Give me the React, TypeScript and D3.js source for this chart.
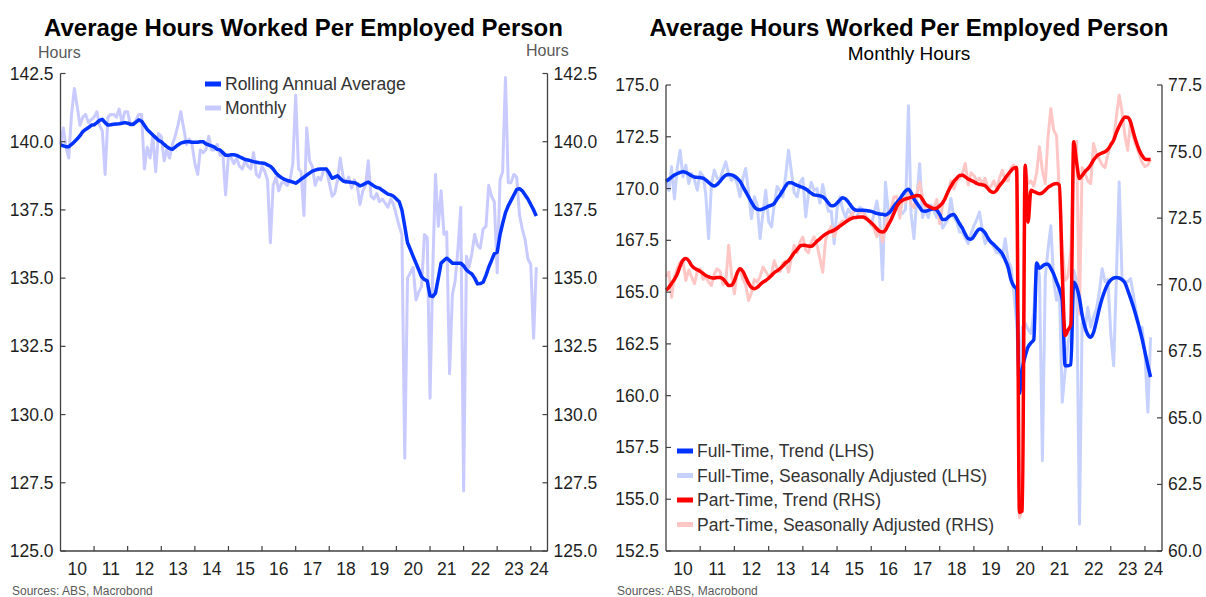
import React from "react";
import * as d3 from "d3";

const FONT = "'Liberation Sans', Arial, Helvetica, sans-serif";

// ---------- categories ----------
const months: Date[] = d3.timeMonth.range(new Date(2010, 0, 1), new Date(2024, 3, 1)); // Jan 2010 .. Mar 2024
const yearLabels = ["10", "11", "12", "13", "14", "15", "16", "17", "18", "19", "20", "21", "22", "23", "24"];
const leftTicks = [125, 127.5, 130, 132.5, 135, 137.5, 140, 142.5];
const rightLhsTicks = [152.5, 155, 157.5, 160, 162.5, 165, 167.5, 170, 172.5, 175];
const rightRhsTicks = [60, 62.5, 65, 67.5, 70, 72.5, 75, 77.5];

// ---------- left chart series ----------
const rollingAvg = [
  139.88, 139.85, 139.82, 139.82, 139.90, 140.00, 140.10, 140.22, 140.37, 140.45, 140.52, 140.60,
  140.62, 140.70, 140.78, 140.82, 140.70, 140.61, 140.62, 140.64, 140.65, 140.66, 140.68, 140.70,
  140.68, 140.64, 140.64, 140.72, 140.80, 140.75, 140.60, 140.45, 140.35, 140.25, 140.15, 140.05,
  140.00, 139.90, 139.82, 139.75, 139.72, 139.80, 139.88, 139.95, 139.98, 140.00, 140.00, 139.98,
  139.98, 139.98, 140.00, 140.00, 139.92, 139.88, 139.85, 139.80, 139.72, 139.70, 139.60, 139.50,
  139.50, 139.52, 139.52, 139.50, 139.45, 139.40, 139.35, 139.33, 139.30, 139.27, 139.25, 139.23,
  139.22, 139.20, 139.15, 139.10, 139.00, 138.85, 138.75, 138.68, 138.62, 138.58, 138.55, 138.52,
  138.48, 138.55, 138.63, 138.70, 138.78, 138.85, 138.92, 138.96, 138.99, 139.00, 139.00, 139.00,
  138.85, 138.66, 138.70, 138.75, 138.65, 138.56, 138.53, 138.52, 138.51, 138.50, 138.45, 138.38,
  138.42, 138.48, 138.52, 138.45, 138.38, 138.32, 138.30, 138.22, 138.15, 138.08, 138.05, 138.00,
  137.90, 137.80, 137.50, 136.90, 136.30, 136.05, 135.80, 135.55, 135.30, 135.05, 134.95, 134.90,
  134.35, 134.33, 134.45, 135.00, 135.55, 135.65, 135.73, 135.65, 135.55, 135.55, 135.55, 135.55,
  135.45, 135.30, 135.22, 135.15, 135.00, 134.79, 134.80, 134.85, 135.10, 135.40, 135.65, 135.90,
  135.95, 136.60, 137.00, 137.40, 137.65, 137.85, 138.05, 138.25, 138.28, 138.20, 138.05, 137.90,
  137.70, 137.50, 137.28,
];

const monthlyHours = [
  139.9, 140.5, 139.8, 139.4, 141.0, 141.95, 141.3, 140.6, 140.9, 141.0, 140.7, 140.8,
  140.9, 141.1, 140.6, 140.4, 138.8, 140.9, 141.0, 141.0, 140.9, 141.2, 140.7, 141.1,
  141.1, 140.6, 140.6, 140.8, 141.0, 141.0, 139.0, 139.8, 139.4, 140.2, 138.9, 140.3,
  140.2, 139.3, 139.7, 139.4, 139.9, 140.2, 140.6, 141.1, 140.5, 139.9, 140.1, 139.9,
  139.2, 138.8, 139.7, 139.6, 139.7, 140.2, 139.7, 139.7, 139.9, 139.5, 139.6, 138.05,
  139.5, 139.4, 139.2, 139.4, 139.1, 139.0, 139.3, 139.1, 139.0, 139.6, 138.8, 138.7,
  139.1, 138.9, 138.6, 136.3, 138.4, 138.7, 138.2, 138.5, 138.5, 138.4, 138.6, 139.2,
  141.7, 139.0, 138.9, 137.3, 140.5, 139.3, 139.1, 138.4, 138.7, 138.6, 138.96, 139.0,
  138.5, 138.0, 138.1, 138.6, 139.4, 138.7, 138.5, 138.7, 138.3, 138.6, 138.4, 137.7,
  138.2, 138.4, 139.3, 138.0, 137.9, 138.1, 137.8, 137.9, 137.75, 137.6, 137.9, 137.7,
  137.3, 136.9, 136.6, 128.4, 135.0, 135.2, 135.4, 134.2, 134.5, 134.7, 136.6, 136.5,
  130.6, 135.5, 138.8, 136.9, 138.2, 136.6, 136.7, 131.5, 134.4, 134.9, 136.1, 137.6,
  127.2, 135.8, 135.4, 135.9, 136.6, 136.2, 136.1, 136.8, 136.9, 138.4, 138.0, 137.8,
  135.2, 138.6, 138.9, 142.35, 138.5, 138.5, 138.8, 138.7, 137.3, 136.8, 136.4, 135.7,
  135.5, 132.8, 135.4,
];

// ---------- right chart series ----------
const fullTimeTrend = [
  170.35, 170.45, 170.55, 170.65, 170.72, 170.78, 170.81, 170.78, 170.7, 170.62, 170.56, 170.54,
  170.53, 170.5, 170.42, 170.3, 170.18, 170.12, 170.2, 170.35, 170.52, 170.64, 170.68, 170.66,
  170.6, 170.5, 170.35, 170.1, 169.85, 169.6, 169.35, 169.12, 169.0, 168.98, 169.02, 169.08,
  169.15, 169.2, 169.28, 169.5, 169.68, 169.9, 170.12, 170.28, 170.28, 170.22, 170.15, 170.1,
  170.05, 169.98, 169.88, 169.78, 169.7, 169.67, 169.65, 169.6, 169.48, 169.3, 169.17, 169.18,
  169.3, 169.45, 169.56, 169.5, 169.35, 169.15, 169.0, 168.95, 168.95, 168.95, 168.94, 168.92,
  168.9, 168.85, 168.8, 168.77, 168.76, 168.72, 168.8, 168.95, 169.15, 169.32, 169.5, 169.7,
  169.88, 169.97, 169.8, 169.5, 169.3, 169.1, 168.92, 168.9, 168.95, 169.0, 169.02, 168.95,
  168.75, 168.5, 168.5, 168.62, 168.72, 168.75, 168.55, 168.3, 168.08, 167.8, 167.58, 167.55,
  167.7, 167.92, 168.05, 168.0, 167.85, 167.6, 167.42, 167.3, 167.15, 167.02, 166.85, 166.55,
  166.2, 165.6, 165.3, 165.15, 160.1, 161.3, 161.9, 162.35, 162.55, 162.7, 166.4, 166.15,
  166.25, 166.35, 166.35, 166.15, 165.88, 165.5, 165.15, 164.6, 161.45, 161.45, 161.5, 165.48,
  165.25, 164.7, 163.9, 163.3, 162.95, 162.82, 163.05, 163.6, 164.2, 164.7, 165.1, 165.4,
  165.58, 165.68, 165.7, 165.68, 165.6, 165.45, 165.1, 164.7, 164.27, 163.8, 163.3, 162.75,
  162.1, 161.45, 160.9,
];

const fullTimeSA = [
  170.3, 169.9, 171.05, 169.5, 171.0, 171.85, 170.56, 171.13, 170.24, 170.72, 170.4, 169.92,
  170.8, 170.6, 169.76, 167.58, 170.2, 170.89, 170.5, 170.48, 170.9, 171.29, 170.7, 170.4,
  170.6, 170.2, 169.6, 170.5, 170.97, 169.8, 168.55, 169.6, 169.2, 167.58, 168.8, 169.92,
  168.4, 168.15, 169.2, 170.1, 169.9, 169.6, 170.6, 171.85, 170.8, 169.8, 169.6, 170.3,
  170.5, 168.63, 169.7, 170.3, 169.9, 170.0, 169.3, 170.2, 169.5, 168.9, 168.9, 167.34,
  169.0, 169.6, 169.0, 168.6, 169.0, 168.8, 168.6, 168.6, 169.1, 169.0, 168.6, 168.5,
  168.23, 168.8, 169.4, 168.5, 165.6, 170.3, 168.9, 168.7, 169.3, 169.0, 168.9, 168.8,
  169.0, 174.0, 168.8, 167.58, 169.5, 171.2, 168.6, 169.0, 168.6, 169.2, 168.9, 168.6,
  168.8, 168.1, 168.3, 168.55, 169.52, 168.6, 168.4, 167.9, 167.9, 167.6, 167.34, 167.8,
  168.2, 168.5, 168.87, 168.0, 167.34, 167.6, 167.4, 167.18, 166.9, 166.9, 166.7, 167.58,
  166.5, 166.21, 165.0, 163.5, 160.6, 163.3, 163.5, 163.2, 163.0, 164.0, 166.4, 165.8,
  156.86, 165.73, 167.0, 168.2, 165.57, 164.6, 165.2, 159.68, 161.21, 162.5, 163.31, 166.05,
  165.6, 153.79, 163.47, 163.15, 164.27, 163.3, 163.8, 164.2, 165.0, 166.13, 165.5, 165.6,
  163.0, 161.45, 165.57, 170.32, 165.7, 165.5, 165.5, 165.65, 164.8, 164.0, 163.23, 163.3,
  162.0, 159.2, 162.82,
];

const partTimeTrend = [
  69.8, 69.9, 70.05, 70.2, 70.4, 70.7, 70.92, 70.98, 70.9, 70.72, 70.62, 70.56,
  70.5, 70.42, 70.35, 70.3, 70.26, 70.25, 70.27, 70.27, 70.22, 70.1, 69.97, 69.98,
  70.15, 70.45, 70.6, 70.5, 70.28, 70.05, 69.9, 69.85, 69.9, 70.0, 70.1, 70.16,
  70.25, 70.35, 70.45, 70.52, 70.6, 70.7, 70.82, 70.9, 71.05, 71.2, 71.32, 71.45,
  71.48, 71.47, 71.45, 71.44, 71.52, 71.63, 71.72, 71.82, 71.9, 71.96, 72.0, 72.05,
  72.12, 72.2, 72.27, 72.35, 72.42, 72.48, 72.52, 72.53, 72.54, 72.54, 72.5, 72.42,
  72.33, 72.22, 72.1, 72.0, 71.98, 72.05, 72.25, 72.45, 72.7, 72.95, 73.1, 73.17,
  73.22, 73.25, 73.28, 73.32, 73.35, 73.34, 73.2, 73.03, 72.95, 72.9, 72.86, 72.88,
  72.96, 73.08, 73.25, 73.5, 73.7, 73.88, 74.0, 74.1, 74.11, 74.05, 73.97, 73.92,
  73.87, 73.8, 73.77, 73.75, 73.72, 73.6, 73.5, 73.46, 73.55, 73.72, 73.85, 74.0,
  74.15, 74.28, 74.38, 74.4, 61.45, 61.5, 74.49, 72.35, 73.55, 73.5, 73.45, 73.42,
  73.45, 73.55, 73.65, 73.72, 73.78, 73.8, 73.74, 70.5, 68.09, 68.3, 68.5, 75.37,
  74.6, 73.99, 74.1, 74.25, 74.35, 74.5, 74.68, 74.82, 74.9, 74.95, 74.99, 75.08,
  75.25, 75.43, 75.7, 75.95, 76.15, 76.3, 76.28, 76.1, 75.7, 75.35, 75.05, 74.85,
  74.72, 74.7, 74.7,
];

const partTimeSA = [
  70.3, 70.47, 69.53, 70.3, 70.6, 70.85, 70.9, 70.16, 70.55, 70.3, 70.04, 70.5,
  70.6, 70.2, 70.3, 70.1, 69.97, 70.4, 70.6, 70.5, 70.0, 70.1, 71.48, 70.4,
  69.66, 70.5, 70.6, 70.2, 70.0, 69.41, 69.7, 70.2, 70.1, 70.3, 70.66, 70.5,
  70.3, 70.4, 70.9, 70.6, 70.5, 70.8, 70.9, 70.47, 71.0, 71.48, 71.2, 71.6,
  71.79, 71.3, 71.2, 71.6, 71.8, 71.5, 71.0, 70.47, 71.7, 72.0, 72.2, 71.8,
  72.1, 72.3, 72.4, 72.35, 72.5, 72.6, 72.75, 72.8, 72.7, 72.75, 72.6, 72.4,
  72.3, 72.1, 71.8, 72.1, 71.6, 72.2, 72.6, 72.9, 73.3, 73.3, 72.5, 73.3,
  73.1, 73.5, 73.0, 72.9, 73.4, 73.86, 73.3, 72.9, 73.0, 72.9, 72.9, 73.2,
  72.3, 73.0, 73.3, 73.5, 73.9, 73.6, 73.9, 74.0, 74.2, 74.55, 73.75, 74.2,
  74.1, 73.9, 74.0, 73.8, 74.0, 73.6, 73.7, 73.9, 73.6, 74.0, 74.3, 73.9,
  73.9, 74.4, 74.5, 74.2, 61.25, 61.6, 74.43, 73.8, 73.9, 73.7, 74.2, 75.18,
  74.3, 73.8, 75.5, 76.62, 75.81, 75.6, 73.5, 71.4, 70.16, 70.3, 71.3, 74.5,
  75.4, 68.9, 74.4, 74.2, 73.9, 73.8, 75.3, 74.9, 74.7, 74.5, 74.4, 74.9,
  75.3, 75.4, 76.3, 77.12, 76.5, 75.6, 75.05, 76.18, 75.5, 75.2, 74.9, 74.6,
  74.43, 74.5, 74.7,
];

// ---------- styling ----------
const C = {
  blue: "#0033ff",
  lavender: "#c9caff",
  lightBlue: "#c6d1ff",
  red: "#ff0000",
  pink: "#ffc6c6",
  axis: "#404040",
  tick: "#1f1f1f",
  text: "#333333",
  note: "#595959",
};

const X_START = new Date(2010, 0, 1);
const X_END = new Date(2024, 6, 1);

type Scale = d3.ScaleLinear<number, number>;
type TScale = d3.ScaleTime<number, number>;

function Frame({ x, yL, yR, ticksL, ticksR }: { x: TScale; yL: Scale; yR: Scale; ticksL: number[]; ticksR: number[] }) {
  const [x0, x1] = x.range();
  const bottom = yL.range()[0];
  const topL = yL(d3.max(ticksL) as number);
  const topR = yR(d3.max(ticksR) as number);
  const yearTicks = d3.timeYear.range(new Date(2011, 0, 1), new Date(2025, 0, 1));
  const labelX = yearLabels.map((_, k) => {
    const yr = 2010 + k;
    const a = x(new Date(yr, 0, 1));
    const b = k === yearLabels.length - 1 ? x(X_END) : x(new Date(yr + 1, 0, 1));
    return (a + b) / 2;
  });
  return (
    <g>
      <line x1={x0} x2={x0} y1={topL} y2={bottom} stroke={C.axis} strokeWidth={1.3} />
      <line x1={x1} x2={x1} y1={topR} y2={bottom} stroke={C.axis} strokeWidth={1.3} />
      <line x1={x0} x2={x1} y1={bottom} y2={bottom} stroke={C.axis} strokeWidth={1.3} />
      {ticksL.map((t) => (
        <g key={"l" + t}>
          <line x1={x0} x2={x0 + 5} y1={yL(t)} y2={yL(t)} stroke={C.axis} strokeWidth={1.2} />
          <text x={x0 - 7} y={yL(t) + 6} textAnchor="end" fontSize={17.5} fill={C.tick} fontFamily={FONT}>
            {t.toFixed(1)}
          </text>
        </g>
      ))}
      {ticksR.map((t) => (
        <g key={"r" + t}>
          <line x1={x1 - 5} x2={x1} y1={yR(t)} y2={yR(t)} stroke={C.axis} strokeWidth={1.2} />
          <text x={x1 + 6} y={yR(t) + 6} textAnchor="start" fontSize={17.5} fill={C.tick} fontFamily={FONT}>
            {t.toFixed(1)}
          </text>
        </g>
      ))}
      {yearTicks.map((d) => (
        <line key={+d} x1={x(d)} x2={x(d)} y1={bottom} y2={bottom - 5} stroke={C.axis} strokeWidth={1.2} />
      ))}
      {yearLabels.map((lab, k) => (
        <text key={lab} x={labelX[k]} y={575} textAnchor="middle" fontSize={17.5} fill={C.tick} fontFamily={FONT}>
          {lab}
        </text>
      ))}
    </g>
  );
}

export default function App() {
  // left chart scales
  const xL = d3.scaleTime().domain([X_START, X_END]).range([60.5, 547.5]);
  const yL = d3.scaleLinear().domain([125, 142.5]).range([551, 73.5]);
  // right chart scales
  const xR = d3.scaleTime().domain([X_START, X_END]).range([666, 1162]);
  const yRL = d3.scaleLinear().domain([152.5, 175]).range([551, 85]);
  const yRR = d3.scaleLinear().domain([60, 77.5]).range([551, 85]);

  const mk = (x: TScale, y: Scale, curve: d3.CurveFactory = d3.curveLinear) =>
    d3
      .line<number>()
      .x((_, i) => x(months[i]))
      .y((d) => y(d))
      .curve(curve);

  const legendLeft = [
    { label: "Rolling Annual Average", color: C.blue },
    { label: "Monthly", color: C.lavender },
  ];
  const legendRight = [
    { label: "Full-Time, Trend (LHS)", color: C.blue },
    { label: "Full-Time, Seasonally Adjusted (LHS)", color: C.lightBlue },
    { label: "Part-Time, Trend (RHS)", color: C.red },
    { label: "Part-Time, Seasonally Adjusted (RHS)", color: C.pink },
  ];

  return (
    <div style={{ position: "absolute", left: 0, top: 0 }}>
      <svg width={1206} height={597} style={{ display: "block", background: "#fff" }} fontFamily={FONT}>
        <rect width={1206} height={597} fill="#fff" />
        {/* ---------------- LEFT CHART ---------------- */}
        <text x={303.5} y={36} textAnchor="middle" fontSize={24} fontWeight="bold" fill="#000">
          Average Hours Worked Per Employed Person
        </text>
        <text x={38} y={58} fontSize={16} fill={C.note}>Hours</text>
        <text x={526} y={56} fontSize={16} fill={C.note}>Hours</text>
        <path d={mk(xL, yL)(monthlyHours) || ""} fill="none" stroke={C.lavender} strokeWidth={3} strokeLinejoin="round" />
        <path d={mk(xL, yL)(rollingAvg) || ""} fill="none" stroke={C.blue} strokeWidth={3.5} strokeLinejoin="round" />
        <Frame x={xL} yL={yL} yR={yL} ticksL={leftTicks} ticksR={leftTicks} />
        {legendLeft.map((l, k) => (
          <g key={l.label}>
            <line x1={205} x2={221} y1={84 + k * 24} y2={84 + k * 24} stroke={l.color} strokeWidth={5} />
            <text x={225} y={90 + k * 24} fontSize={17.5} fill={C.text}>{l.label}</text>
          </g>
        ))}
        <text x={12} y={595} fontSize={12} fill={C.note}>Sources: ABS, Macrobond</text>

        {/* ---------------- RIGHT CHART ---------------- */}
        <text x={909} y={36} textAnchor="middle" fontSize={24} fontWeight="bold" fill="#000">
          Average Hours Worked Per Employed Person
        </text>
        <text x={909} y={60} textAnchor="middle" fontSize={19} fill="#000">Monthly Hours</text>
        <path d={mk(xR, yRL)(fullTimeSA) || ""} fill="none" stroke={C.lightBlue} strokeWidth={3} strokeLinejoin="round" />
        <path d={mk(xR, yRR)(partTimeSA) || ""} fill="none" stroke={C.pink} strokeWidth={3} strokeLinejoin="round" />
        <path d={mk(xR, yRL, d3.curveMonotoneX)(fullTimeTrend) || ""} fill="none" stroke={C.blue} strokeWidth={3.5} strokeLinejoin="round" />
        <path d={mk(xR, yRR, d3.curveMonotoneX)(partTimeTrend) || ""} fill="none" stroke={C.red} strokeWidth={3.5} strokeLinejoin="round" />
        <Frame x={xR} yL={yRL} yR={yRR} ticksL={rightLhsTicks} ticksR={rightRhsTicks} />
        {legendRight.map((l, k) => (
          <g key={l.label}>
            <line x1={677} x2={693} y1={451 + k * 24.5} y2={451 + k * 24.5} stroke={l.color} strokeWidth={5} />
            <text x={697} y={457 + k * 24.5} fontSize={17.5} fill={C.text}>{l.label}</text>
          </g>
        ))}
        <text x={617} y={595} fontSize={12} fill={C.note}>Sources: ABS, Macrobond</text>
      </svg>
    </div>
  );
}
